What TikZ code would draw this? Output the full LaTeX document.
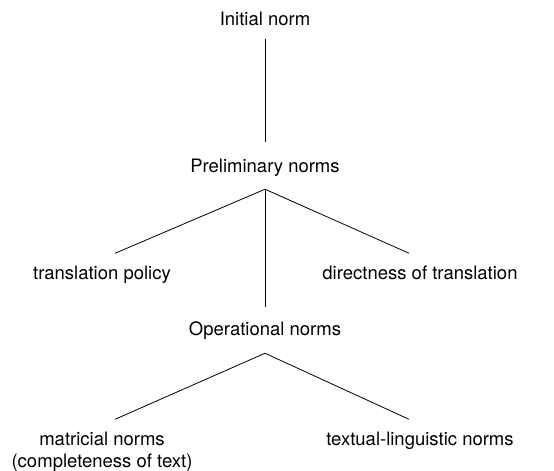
\documentclass[tikz,border=0pt]{standalone}
\usepackage{fontspec}
\setmainfont{TeX Gyre Heros}
\usepackage{tikz}
\usetikzlibrary{positioning}

\begin{document}
\begin{tikzpicture}
    [ norm/.style =
      { inner sep = 0pt, font = \fontsize{18.5}{22}\selectfont, align = center }
    , edge/.style =
      { line width = .8pt }
    ]
    \useasboundingbox (0,0) rectangle (554pt,-471pt);

    \node [norm, anchor=base] (init) at (265pt,-25pt) {Initial norm};
    \node [norm] (prelim) [below=147pt of init.base, anchor=base] {Preliminary norms};
    \node [norm] (policy) [below left=107pt and 163pt of prelim.base, anchor=base] {translation policy};
    \node [norm] (direct) [below right=107pt and 155pt of prelim.base, anchor=base] {directness of translation};
    \node [norm] (oper) [below=163pt of prelim.base, anchor=base] {Operational norms};
    \node [norm] (matric) [below left=132pt and 163pt of oper.base, anchor=base] {matricial norms\\(completeness of text)};
    \node [norm] (textual) [below right=110pt and 155pt of oper.base, anchor=base] {textual-linguistic norms};

    \coordinate (prelim-split) at ([yshift=-13pt]prelim.south);
    \coordinate (oper-split) at ([yshift=-14pt]oper.south);

    \draw [edge, shorten <=14pt, shorten >=16pt] (init.south) -- (prelim.north);
    \draw [edge] (prelim-split) -- ([shift={(13pt,12pt)}]policy.north);
    \draw [edge] (prelim-split) -- ([shift={(-11pt,12pt)}]direct.north);
    \draw [edge] (prelim-split) -- ([yshift=14pt]oper.north);
    \draw [edge] (oper-split) -- ([shift={(13pt,12pt)}]matric.north);
    \draw [edge] (oper-split) -- ([shift={(-11pt,12pt)}]textual.north);
  \end{tikzpicture}
\end{document}
